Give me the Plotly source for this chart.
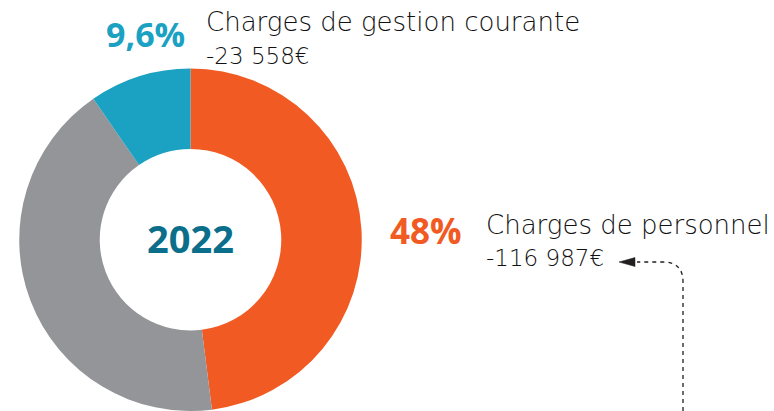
import plotly.graph_objects as go

# Data
categories = ["Charges de personnel", "Autres charges", "Charges de gestion courante"]
shares = [48.0, 42.4, 9.6]
colors = ["#F15A22", "#939598", "#1BA1C1"]
pct_labels = ["48%", "", "9,6%"]
amount_labels = ["-116 987€", "", "-23 558€"]
year_label = "2022"

W, H = 774, 411

fig = go.Figure()

# donut: centre ~ (190.5, 240), outer radius ~171
cx, cy, r = 190.5, 240.0, 171.5
fig.add_trace(go.Pie(
    labels=categories,
    values=shares,
    marker=dict(colors=colors, line=dict(width=0)),
    hole=0.53,
    sort=False,
    direction="clockwise",
    rotation=0,
    textinfo="none",
    hoverinfo="label+percent",
    showlegend=False,
    domain=dict(x=[(cx - r) / W, (cx + r) / W], y=[max(0, 1 - (cy + r) / H), 1 - (cy - r) / H]),
))

# invisible axes mapped to pixel coordinates for annotations / shapes
fig.add_trace(go.Scatter(x=[0, W], y=[0, H], mode="markers", marker=dict(opacity=0),
                         hoverinfo="skip", showlegend=False))

dark = "#111111"
lab_font = "'DejaVu Sans', sans-serif"
big_font = "'Open Sans', sans-serif"

ann = []
# 9,6% group
ann.append(dict(x=104, y=34, text="<b>" + pct_labels[2] + "</b>", font=dict(size=34, color=colors[2], family=big_font)))
ann.append(dict(x=204, y=22, text=categories[2], font=dict(size=26, color=dark, family=lab_font, weight=200)))
ann.append(dict(x=204, y=56, text=amount_labels[2], font=dict(size=23, color=dark, family=lab_font, weight=200)))
# 48% group
ann.append(dict(x=388, y=230, text="<b>" + pct_labels[0] + "</b>", font=dict(size=35, color=colors[0], family=big_font)))
ann.append(dict(x=484, y=225, text=categories[0], font=dict(size=26, color=dark, family=lab_font, weight=200)))
ann.append(dict(x=484, y=258, text=amount_labels[0], font=dict(size=23, color=dark, family=lab_font, weight=200)))
for a in ann:
    a.update(xref="x", yref="y", xanchor="left", yanchor="middle", showarrow=False)
# centre year
ann.append(dict(x=cx, y=238, xref="x", yref="y", xanchor="center", yanchor="middle", showarrow=False,
                text="<b>" + year_label + "</b>", font=dict(size=38, color="#0B6E8A", family=big_font)))

shapes = [
    dict(type="path", xref="x", yref="y",
         path="M 683 411 L 683 282 Q 683 262 663 262 L 637 262",
         line=dict(color="#231F20", width=1.3, dash="4px,4px")),
    dict(type="path", xref="x", yref="y",
         path="M 619 262 L 635 257.5 L 635 266.5 Z",
         fillcolor="#231F20", line=dict(color="#231F20", width=0.5)),
]

fig.update_layout(
    width=W, height=H,
    margin=dict(l=0, r=0, t=0, b=0),
    paper_bgcolor="white", plot_bgcolor="rgba(0,0,0,0)",
    xaxis=dict(range=[0, W], visible=False, fixedrange=True),
    yaxis=dict(range=[H, 0], visible=False, fixedrange=True),
    annotations=ann,
    shapes=shapes,
)

fig.write_html("out.html", config={"displayModeBar": False},
               post_script="document.body.style.margin='0';document.body.style.overflow='hidden';")
